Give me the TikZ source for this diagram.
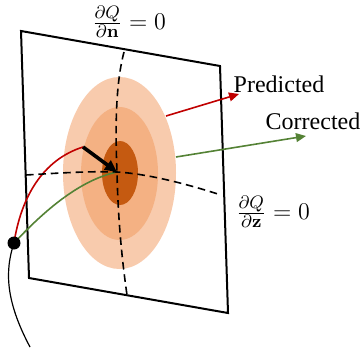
\documentclass[tikz,border=0pt]{standalone}
\usepackage{amsmath}
\usepackage[no-math]{fontspec}
\setmainfont{Liberation Serif}
\usetikzlibrary{arrows.meta}
\definecolor{predred}{RGB}{192,0,0}
\definecolor{corrgreen}{RGB}{84,130,53}
\definecolor{ringout}{RGB}{248,203,173}
\definecolor{ringmid}{RGB}{244,177,131}
\definecolor{ringin}{RGB}{197,90,17}
\tikzset{
  planeedge/.style={line width=1pt, line join=miter},
  dashline/.style={line width=0.8pt, dash pattern=on 3.8pt off 2.4pt},
  redline/.style={predred, line width=0.8pt},
  greenline/.style={corrgreen, line width=0.8pt},
  tiparrow/.style={-{Triangle[length=5pt,width=4.4pt]}},
  lbl/.style={inner sep=0pt, font=\fontsize{12}{14}\selectfont},
  mathlbl/.style={inner sep=0pt, font=\fontsize{13}{15}\selectfont}
}
\begin{document}
\begin{tikzpicture}[x=0.5pt,y=-0.5pt]
\useasboundingbox (0,0) rectangle (362,347);
% plane
\coordinate (p1) at (21,31);
\coordinate (p2) at (220,66);
\coordinate (p3) at (228,313);
\coordinate (p4) at (29,278);
\draw[planeedge] (p1) -- (p2) -- (p3) -- (p4) -- cycle;
% key points
\coordinate (dot) at (14,243);
\coordinate (ctr) at (117,172);
\coordinate (redend) at (83,147);
\coordinate (bottom) at (30,347);
% red incoming curve
\draw[redline] (dot) .. controls (21,198) and (42,160) .. (redend);
% green incoming curve
\draw[greenline] (dot) .. controls (45,210) and (80,180) .. (ctr);
% trajectory below
\draw[line width=0.6pt] (dot) .. controls (5,270) and (5,300) .. (bottom);
% rings
\fill[ringout] (119.5,173) ellipse [x radius=56.5, y radius=96];
\fill[ringmid] (119.5,173.5) ellipse [x radius=38.5, y radius=66.5];
\fill[ringin] (120,173) ellipse [x radius=18, y radius=32];
% redraw visible parts of incoming curves over the rings
\begin{scope}
\clip (119.5,173) ellipse [x radius=56.5, y radius=96];
\draw[redline] (dot) .. controls (21,198) and (42,160) .. (redend);
\draw[greenline] (dot) .. controls (45,210) and (80,180) .. (ctr);
\end{scope}
% dashed level lines
\coordinate (vtop) at (124,52);
\coordinate (vbot) at (127,295);
\coordinate (hleft) at (26,175);
\coordinate (hright) at (221,195);
\draw[dashline] (vtop) .. controls (116,82) and (115,125) .. (ctr)
  .. controls (118,220) and (122,260) .. (vbot);
\draw[dashline] (hleft) .. controls (60,173) and (90,171) .. (ctr)
  .. controls (150,174) and (190,185) .. (hright);
% correction arrow
\draw[line width=1.8pt, -{Triangle[length=6pt,width=5.5pt]}] (redend) -- (ctr);
% outgoing arrows
\coordinate (predstart) at (166,116);
\coordinate (predtip) at (239,94);
\coordinate (corrstart) at (176,157);
\coordinate (corrtip) at (306,136);
\draw[redline, tiparrow] (predstart) -- (predtip);
\draw[greenline, tiparrow] (corrstart) -- (corrtip);
% start point
\fill (dot) circle [radius=6.5];
% labels
\node[lbl] (pred) at (279,84) {Predicted};
\node[lbl] (corr) at (313,121) {Corrected};
\node[mathlbl] (dqn) at (129,22) {$\frac{\partial Q}{\partial\mathbf{n}}=0$};
\node[mathlbl] (dqz) at (273,212) {$\frac{\partial Q}{\partial\mathbf{z}}=0$};
\end{tikzpicture}
\end{document}
